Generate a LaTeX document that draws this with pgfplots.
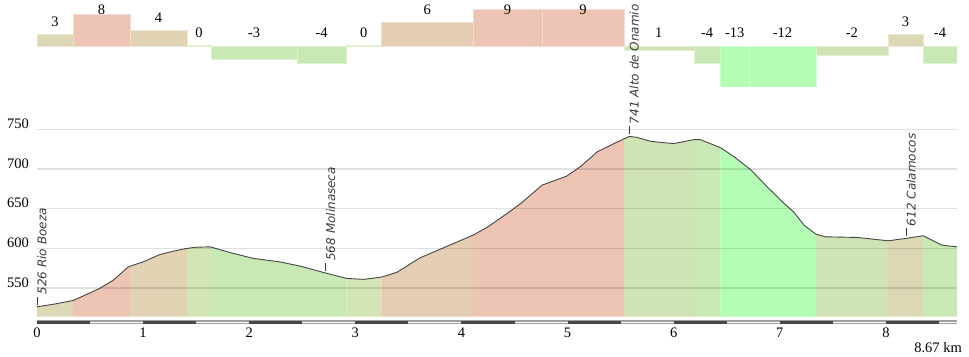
\documentclass[border=0pt]{standalone}
\usepackage{fontspec}
\setmainfont{Liberation Serif}
\newfontfamily\labfont{DejaVu Sans}
\usepackage{pgfplots}
\pgfplotsset{compat=1.18}
\usepackage{pgfplotstable}
\usepgfplotslibrary{fillbetween}

\definecolor{gOl}{RGB}{220,215,180}
\definecolor{gSa}{RGB}{237,196,180}
\definecolor{gTf}{RGB}{226,211,180}
\definecolor{gTs}{RGB}{229,205,180}
\definecolor{gZe}{RGB}{212,228,180}
\definecolor{gGn}{RGB}{200,232,180}
\definecolor{gGo}{RGB}{208,227,180}
\definecolor{gBr}{RGB}{180,253,180}
\definecolor{labc}{RGB}{60,60,60}
\definecolor{linec}{RGB}{70,70,70}

\pgfplotstableread{
km ele
0 526.5
0.17 530
0.343 534.5
0.59 549.6
0.72 560
0.86 576.8
1.0 583
1.16 592.4
1.29 596.6
1.41 600
1.5 601.5
1.63 602
1.85 593.7
2.04 587.4
2.29 583
2.48 577.7
2.72 569
2.92 562.2
3.08 561
3.25 564
3.39 569.8
3.61 588.2
3.87 603
4.11 616.8
4.24 626.4
4.43 644
4.56 656.7
4.76 679.7
4.99 691
5.12 702.8
5.28 721.7
5.44 732.2
5.58 741
5.65 740
5.78 735
5.85 733.9
6.0 732
6.19 737
6.25 737
6.44 727
6.57 715.4
6.73 698.6
6.88 677.6
7.04 656.7
7.13 646
7.23 629
7.34 618
7.43 614.6
7.73 613.8
8.02 609.6
8.19 612.6
8.35 616
8.53 604
8.67 602
}\profile

\newcommand{\gbar}[4]{\addplot[fill=#4, draw=#4!60!white, line width=0.6bp] coordinates {(#1,0) (#1,#3) (#2,#3) (#2,0)} --cycle;}
\newcommand{\pfill}[3]{\addplot[fill=#3, draw=none] fill between[of=prof and base, soft clip={domain=#1:#2}];}
\newcommand{\glab}[3]{\node[font=\fontsize{14.5bp}{16bp}\selectfont, inner sep=0pt] at (axis cs:#1,#2) {#3};}
\newcommand{\plab}[3]{\draw[labc, line width=0.7bp] ([yshift=2bp]axis cs:#1,#2) -- ([yshift=10bp]axis cs:#1,#2) node[rotate=90, anchor=north west, inner xsep=2bp, inner ysep=0pt, font=\labfont\fontsize{12bp}{14bp}\itshape\selectfont, text=labc] {#3};}

\begin{document}
\begin{tikzpicture}

\begin{axis}[
  at={(0,230bp)}, anchor=south west, scale only axis,
  width=920bp, height=86.7bp,
  xmin=0, xmax=8.67, ymin=-9.76, ymax=11.39,
  hide axis, clip mode=individual,
]
\gbar{0}{0.34}{3}{gOl}
\gbar{0.34}{0.877}{8}{gSa}
\gbar{0.877}{1.415}{4}{gTf}
\gbar{1.415}{1.64}{0.4}{gZe}
\gbar{1.64}{2.45}{-3}{gGn}
\gbar{2.45}{2.915}{-4}{gGn}
\gbar{2.915}{3.245}{0.3}{gZe}
\gbar{3.245}{4.11}{6}{gTs}
\gbar{4.11}{4.76}{9}{gSa}
\gbar{4.76}{5.53}{9}{gSa}
\gbar{5.53}{6.19}{-1}{gGo}
\gbar{6.19}{6.44}{-4}{gGn}
\gbar{6.44}{6.71}{-13}{gBr}
\gbar{6.71}{7.34}{-12}{gBr}
\gbar{7.34}{8.02}{-2}{gGo}
\gbar{8.02}{8.35}{3}{gOl}
\gbar{8.35}{8.67}{-4}{gGn}
\glab{0.17}{6.1}{3}
\glab{0.6085}{8.95}{8}
\glab{1.146}{7.1}{4}
\glab{1.5275}{3.3}{0}
\glab{2.045}{3.3}{-3}
\glab{2.6825}{3.3}{-4}
\glab{3.08}{3.3}{0}
\glab{3.6775}{8.95}{6}
\glab{4.435}{8.95}{9}
\glab{5.145}{8.95}{9}
\glab{5.86}{3.3}{1}
\glab{6.315}{3.3}{-4}
\glab{6.575}{3.3}{-13}
\glab{7.025}{3.3}{-12}
\glab{7.68}{3.3}{-2}
\glab{8.185}{6.0}{3}
\glab{8.51}{3.3}{-4}
\end{axis}

\begin{axis}[
  at={(0,0)}, anchor=south west, scale only axis,
  width=920bp, height=187.4bp,
  xmin=0, xmax=8.67, ymin=514, ymax=750,
  xtick={0,1,2,3,4,5,6,7,8}, ytick={550,600,650,700,750},
  ymajorgrids, major grid style={line width=1.3bp, black, opacity=0.12},
  axis line style={draw=none}, major tick length=0pt,
  axis on top, clip=false,
  tick label style={font=\fontsize{14.5bp}{16bp}\selectfont, /pgf/number format/assume math mode=true},
  yticklabel style={anchor=east, inner sep=0pt, xshift=-8bp, yshift=5.5bp},
  xticklabel style={anchor=center, inner sep=0pt, yshift=-16.3bp},
]
\addplot[name path=prof, draw=none] table[x=km,y=ele]{\profile};
\addplot[name path=base, draw=none] coordinates {(0,514) (8.67,514)};
\pfill{0}{0.34}{gOl}
\pfill{0.34}{0.877}{gSa}
\pfill{0.877}{1.415}{gTf}
\pfill{1.415}{1.64}{gZe}
\pfill{1.64}{2.45}{gGn}
\pfill{2.45}{2.915}{gGn}
\pfill{2.915}{3.245}{gZe}
\pfill{3.245}{4.11}{gTs}
\pfill{4.11}{4.76}{gSa}
\pfill{4.76}{5.53}{gSa}
\pfill{5.53}{6.19}{gGo}
\pfill{6.19}{6.44}{gGn}
\pfill{6.44}{6.71}{gBr}
\pfill{6.71}{7.34}{gBr}
\pfill{7.34}{8.02}{gGo}
\pfill{8.02}{8.35}{gOl}
\pfill{8.35}{8.67}{gGn}
\addplot[line width=0.9bp, color=linec] table[x=km,y=ele]{\profile};
\plab{0}{526.5}{526 Rio Boeza}
\plab{2.72}{569}{568 Molinaseca}
\plab{5.58}{741}{741 Alto de Onamio}
\plab{8.19}{612.6}{612 Calamocos}
\end{axis}

\fill[black!38] (0,-7.3bp) rectangle (920bp,-3.3bp);
\draw[white, line width=1bp] (0,-5.3bp) -- (920bp,-5.3bp);
\foreach \k in {0,...,8} {
  \fill[black!72] ({\k*106.11bp},-6.8bp) rectangle ({(\k+0.5)*106.11bp},-3.8bp);
}
\node[anchor=east, inner sep=0pt, font=\fontsize{14.5bp}{16bp}\selectfont] at (925bp,-31.3bp) {8.67 km};
\pgfresetboundingbox
\useasboundingbox (-37bp,-40.3bp) rectangle (932bp,316.7bp);
\end{tikzpicture}
\end{document}
